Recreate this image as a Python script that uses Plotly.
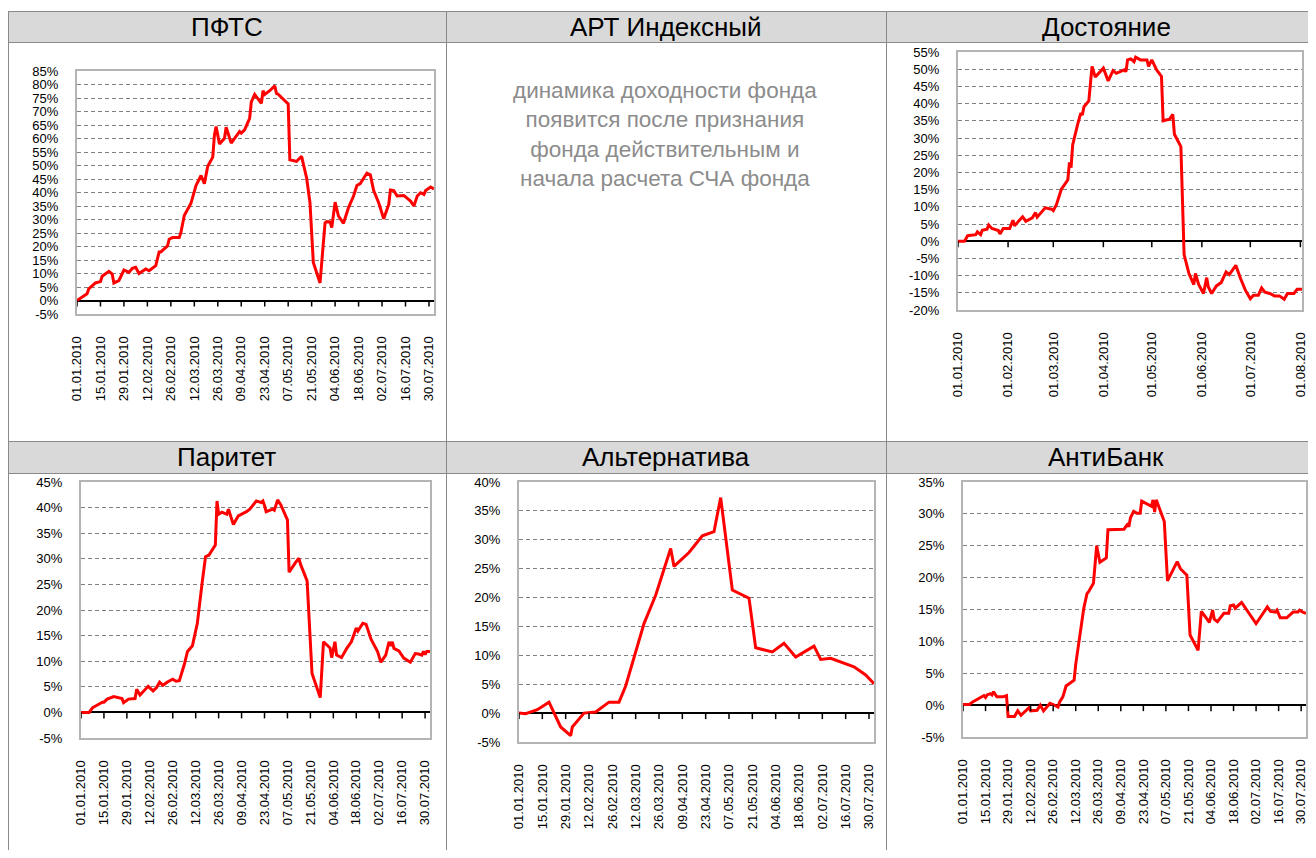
import plotly.graph_objects as go

# The page body keeps its default 8px margin, so the figure is 16px smaller than the window
OFF = 8
W, H = 1316 - 2 * OFF, 858 - 2 * OFF
FONT = "Liberation Sans, Arial, sans-serif"

# ---------------- data ----------------
pfts_dates = ["2010-01-01","2010-01-07","2010-01-08","2010-01-12","2010-01-15","2010-01-16","2010-01-20","2010-01-22","2010-01-23","2010-01-26",
              "2010-01-29","2010-02-01","2010-02-03","2010-02-05","2010-02-07","2010-02-09","2010-02-11","2010-02-13","2010-02-15","2010-02-17",
              "2010-02-19","2010-02-20","2010-02-24","2010-02-25","2010-02-27","2010-03-03","2010-03-04","2010-03-06","2010-03-10","2010-03-12",
              "2010-03-13","2010-03-16","2010-03-18","2010-03-20","2010-03-23","2010-03-24","2010-03-25","2010-03-27","2010-03-30","2010-03-31",
              "2010-04-01","2010-04-03","2010-04-08","2010-04-09","2010-04-11","2010-04-14","2010-04-15","2010-04-17","2010-04-21","2010-04-22",
              "2010-04-23","2010-04-26","2010-04-29","2010-04-30","2010-05-01","2010-05-07","2010-05-08","2010-05-12","2010-05-15","2010-05-18",
              "2010-05-20","2010-05-22","2010-05-26","2010-05-29","2010-05-30","2010-06-01","2010-06-02","2010-06-04","2010-06-06","2010-06-09",
              "2010-06-12","2010-06-15","2010-06-17","2010-06-19","2010-06-23","2010-06-25","2010-06-27","2010-06-30","2010-07-03","2010-07-06",
              "2010-07-07","2010-07-09","2010-07-11","2010-07-15","2010-07-19","2010-07-21","2010-07-23","2010-07-25","2010-07-27","2010-07-28",
              "2010-07-31","2010-08-02"]
pfts_vals = [0.0,2.5,4.3,6.5,7.0,9.0,10.8,9.8,6.5,7.4,
             11.3,10.4,11.9,12.3,10.0,10.8,11.7,11.0,11.9,12.9,
             18.0,18.0,20.2,22.7,23.3,23.3,25.2,31.5,36.0,39.9,
             42.6,46.3,43.3,49.7,53.1,61.3,64.4,58.0,60.1,64.2,
             62.0,58.3,62.6,62.0,63.2,67.5,73.6,76.3,73.0,77.7,
             76.3,77.7,79.5,76.7,76.4,72.8,52.1,51.5,53.4,45.4,
             36.2,14.1,6.5,28.8,29.2,29.1,27.0,36.4,31.3,28.6,
             34.4,38.7,42.6,43.3,47.2,46.6,40.7,36.2,30.3,35.6,
             40.9,40.7,38.7,38.9,36.8,35.0,38.7,39.9,39.3,40.7,
             42.0,41.3]

dost_dates = ["2010-01-01","2010-01-05","2010-01-07","2010-01-12","2010-01-13","2010-01-15","2010-01-16","2010-01-19","2010-01-20","2010-01-22",
              "2010-01-26","2010-01-27","2010-01-29","2010-02-02","2010-02-04","2010-02-05","2010-02-10","2010-02-12","2010-02-16","2010-02-18",
              "2010-02-19","2010-02-24","2010-02-28","2010-03-01","2010-03-03","2010-03-04","2010-03-06","2010-03-10","2010-03-11","2010-03-12",
              "2010-03-13","2010-03-16","2010-03-18","2010-03-19","2010-03-20","2010-03-23","2010-03-25","2010-03-27","2010-03-29","2010-04-01",
              "2010-04-04","2010-04-07","2010-04-09","2010-04-12","2010-04-14","2010-04-15","2010-04-16","2010-04-18","2010-04-20","2010-04-21",
              "2010-04-24","2010-04-28","2010-04-29","2010-05-01","2010-05-04","2010-05-07","2010-05-08","2010-05-12","2010-05-14","2010-05-15",
              "2010-05-19","2010-05-21","2010-05-24","2010-05-27","2010-05-28","2010-05-30","2010-06-02","2010-06-04","2010-06-05","2010-06-07",
              "2010-06-10","2010-06-13","2010-06-16","2010-06-18","2010-06-22","2010-06-25","2010-06-28","2010-07-01","2010-07-03","2010-07-06",
              "2010-07-08","2010-07-10","2010-07-13","2010-07-16","2010-07-19","2010-07-22","2010-07-24","2010-07-28","2010-07-30","2010-08-02"]
dost_vals = [0.0,0.0,1.6,1.9,2.7,1.9,3.2,3.5,4.7,3.7,
             3.1,2.1,3.7,3.7,6.1,4.5,7.1,5.8,6.8,8.3,
             7.0,9.7,9.3,8.9,10.7,12.4,15.1,17.8,22.9,21.4,
             28.0,33.8,37.2,36.7,39.1,40.8,50.8,47.7,48.8,50.3,
             46.6,49.6,48.8,49.5,49.8,49.3,52.7,53.0,52.2,53.5,
             52.7,52.7,50.8,52.7,49.8,47.9,35.0,35.5,36.9,31.1,
             27.5,-3.9,-9.4,-12.6,-9.4,-12.6,-15.2,-10.6,-13.3,-15.2,
             -13.0,-12.0,-8.9,-9.7,-7.0,-10.9,-14.3,-16.7,-15.7,-15.7,
             -13.6,-14.8,-15.2,-15.9,-15.9,-16.9,-15.2,-15.2,-14.0,-14.0]

parit_dates = ["2010-01-01","2010-01-06","2010-01-08","2010-01-12","2010-01-14","2010-01-15","2010-01-17","2010-01-21","2010-01-23","2010-01-26",
               "2010-01-27","2010-01-30","2010-02-03","2010-02-04","2010-02-06","2010-02-11","2010-02-14","2010-02-16","2010-02-18","2010-02-20",
               "2010-02-23","2010-02-26","2010-02-28","2010-03-02","2010-03-05","2010-03-07","2010-03-10","2010-03-13","2010-03-16","2010-03-18",
               "2010-03-20","2010-03-24","2010-03-25","2010-03-26","2010-03-28","2010-03-31","2010-04-01","2010-04-04","2010-04-07","2010-04-09",
               "2010-04-12","2010-04-14","2010-04-18","2010-04-21","2010-04-22","2010-04-23","2010-04-24","2010-04-28","2010-04-29","2010-05-01",
               "2010-05-03","2010-05-07","2010-05-08","2010-05-12","2010-05-14","2010-05-15","2010-05-19","2010-05-22","2010-05-27","2010-05-29",
               "2010-06-02","2010-06-03","2010-06-05","2010-06-06","2010-06-09","2010-06-12","2010-06-15","2010-06-18","2010-06-19","2010-06-22",
               "2010-06-24","2010-06-27","2010-06-30","2010-07-01","2010-07-03","2010-07-06","2010-07-08","2010-07-09","2010-07-10","2010-07-11",
               "2010-07-14","2010-07-17","2010-07-21","2010-07-24","2010-07-26","2010-07-28","2010-07-29","2010-07-30","2010-07-31","2010-08-02"]
parit_vals = [0.0,0.0,0.9,1.6,2.0,2.0,2.6,3.1,2.9,2.7,
              1.9,2.6,2.7,4.5,3.4,5.1,4.2,4.8,5.9,5.3,
              6.0,6.5,6.1,6.2,9.3,11.9,13.0,17.4,25.5,30.4,
              30.7,32.7,41.3,38.7,39.1,38.7,39.7,36.7,38.4,38.7,
              39.2,39.7,41.3,41.0,41.3,40.4,39.2,39.7,39.5,41.5,
              40.5,37.6,27.4,29.3,30.1,28.9,25.7,7.6,2.9,13.8,
              12.6,10.7,13.8,11.2,10.7,12.4,13.8,16.5,15.9,17.4,
              17.2,14.3,12.6,11.9,9.8,11.2,13.8,13.0,13.8,12.5,
              12.0,10.6,9.8,11.5,11.4,11.2,11.9,11.3,11.9,11.9]

alt_dates = ["2010-01-01","2010-01-05","2010-01-12","2010-01-19","2010-01-26","2010-02-01","2010-02-02","2010-02-09","2010-02-16","2010-02-24",
             "2010-03-02","2010-03-06","2010-03-17","2010-03-24","2010-04-02","2010-04-04","2010-04-13","2010-04-21","2010-04-28","2010-05-02",
             "2010-05-09","2010-05-19","2010-05-23","2010-06-02","2010-06-09","2010-06-16","2010-06-27","2010-07-01","2010-07-07","2010-07-21",
             "2010-07-28","2010-08-02"]
alt_vals = [0.0,-0.1,0.6,1.9,-2.4,-3.9,-2.4,0.0,0.2,1.9,
            1.9,4.7,15.5,20.4,28.5,25.4,27.8,30.7,31.4,37.3,
            21.3,19.9,11.3,10.6,12.1,9.7,11.6,9.3,9.5,8.0,
            6.6,5.1]

anti_dates = ["2010-01-01","2010-01-05","2010-01-07","2010-01-12","2010-01-14","2010-01-15","2010-01-16","2010-01-18","2010-01-19","2010-01-20",
              "2010-01-22","2010-01-26","2010-01-28","2010-01-29","2010-02-02","2010-02-04","2010-02-06","2010-02-11","2010-02-12","2010-02-16",
              "2010-02-18","2010-02-20","2010-02-24","2010-02-26","2010-03-01","2010-03-02","2010-03-04","2010-03-06","2010-03-11","2010-03-12",
              "2010-03-15","2010-03-17","2010-03-19","2010-03-20","2010-03-23","2010-03-25","2010-03-27","2010-03-31","2010-04-01","2010-04-11",
              "2010-04-13","2010-04-14","2010-04-15","2010-04-17","2010-04-19","2010-04-21","2010-04-22","2010-04-28","2010-04-29","2010-04-30",
              "2010-05-01","2010-05-06","2010-05-08","2010-05-14","2010-05-16","2010-05-20","2010-05-22","2010-05-27","2010-05-29","2010-06-03",
              "2010-06-05","2010-06-06","2010-06-08","2010-06-12","2010-06-15","2010-06-16","2010-06-18","2010-06-19","2010-06-23","2010-06-28",
              "2010-07-02","2010-07-05","2010-07-08","2010-07-09","2010-07-11","2010-07-14","2010-07-15","2010-07-17","2010-07-21","2010-07-25",
              "2010-07-28","2010-07-29","2010-07-31","2010-08-02"]
anti_vals = [0.1,0.1,0.5,1.3,1.5,1.2,1.6,1.8,1.6,2.1,
             1.3,1.3,1.5,-1.8,-1.8,-0.9,-1.6,-0.4,-0.9,-0.8,
             0.0,-0.9,0.3,0.1,-0.3,0.5,1.3,3.0,3.9,6.4,
             11.5,15.2,17.5,17.8,19.1,25.0,22.4,23.1,27.5,27.6,
             28.3,28.0,29.4,30.4,30.1,30.1,32.0,31.2,32.2,30.3,
             32.2,28.8,19.5,22.5,21.4,20.4,11.0,8.6,14.7,13.0,
             14.9,13.5,13.1,14.4,14.4,15.6,15.7,15.2,16.1,14.2,
             12.8,13.9,15.2,15.4,14.7,14.6,14.9,13.7,13.7,14.6,
             14.6,14.9,14.6,14.4]

biweekly_ticks = ["2010-01-01","2010-01-15","2010-01-29","2010-02-12","2010-02-26","2010-03-12","2010-03-26","2010-04-09",
                  "2010-04-23","2010-05-07","2010-05-21","2010-06-04","2010-06-18","2010-07-02","2010-07-16","2010-07-30"]
monthly_ticks = ["2010-01-01","2010-02-01","2010-03-01","2010-04-01","2010-05-01","2010-06-01","2010-07-01","2010-08-01"]

titles = ["ПФТС", "АРТ Индексный", "Достояние", "Паритет", "Альтернатива", "АнтиБанк"]
placeholder_text = "динамика доходности фонда<br>появится после признания<br>фонда действительным и<br>начала расчета СЧА фонда"

x_range = ["2010-01-01", "2010-08-02"]

# ---------------- layout config (window-pixel boxes) ----------------
panels = [
    dict(dates=pfts_dates, vals=pfts_vals, yr=(-5, 85), ticks=biweekly_ticks, box=(77, 71, 434, 314)),
    dict(dates=dost_dates, vals=dost_vals, yr=(-20, 55), ticks=monthly_ticks, box=(958, 52, 1302, 310)),
    dict(dates=parit_dates, vals=parit_vals, yr=(-5, 45), ticks=biweekly_ticks, box=(81, 482, 430, 738)),
    dict(dates=alt_dates, vals=alt_vals, yr=(-5, 40), ticks=biweekly_ticks, box=(519, 482, 874, 742)),
    dict(dates=anti_dates, vals=anti_vals, yr=(-5, 35), ticks=biweekly_ticks, box=(963, 482, 1306, 737)),
]


def px(x):
    return (x - OFF) / W


def py(y):
    return 1 - (y - OFF) / H


FRAME = "#b4b4b4"
GRID = "#808080"

fig = go.Figure()
shapes = []
layout = {}

# table: header fills and borders
for (y0, y1) in [(11, 42), (441, 473)]:
    shapes.append(dict(type="rect", xref="paper", yref="paper", x0=px(8), x1=1.0, y0=py(y1), y1=py(y0),
                       fillcolor="#d9d9d9", line=dict(width=0), layer="below"))
for yy in [11.5, 42.5, 441.5, 473.5]:
    shapes.append(dict(type="line", xref="paper", yref="paper", x0=px(8), x1=1.0, y0=py(yy), y1=py(yy),
                       line=dict(color="#8a8a8a", width=1)))
for xx in [8.5, 446.5, 886.5]:
    shapes.append(dict(type="line", xref="paper", yref="paper", x0=px(xx), x1=px(xx), y0=py(11), y1=0,
                       line=dict(color="#8a8a8a", width=1)))

annotations = []
title_pos = [(226.5, 26.5), (666.5, 26.5), (1106, 26.5), (226.5, 457.5), (666.5, 457.5), (1106, 457.5)]
for t, (cx, cy) in zip(titles, title_pos):
    annotations.append(dict(text=t, xref="paper", yref="paper", x=px(cx), y=py(cy), xanchor="center", yanchor="middle",
                            showarrow=False, font=dict(family=FONT, size=26, color="black")))
annotations.append(dict(text=placeholder_text, xref="paper", yref="paper", x=px(665), y=py(134.5), xanchor="center",
                        yanchor="middle", showarrow=False, align="center",
                        font=dict(family=FONT, size=22.5, color="#8c8c8c")))

for i, p in enumerate(panels, start=1):
    sfx = "" if i == 1 else str(i)
    x0, y0, x1, y1 = p["box"]
    lo, hi = p["yr"]
    yt = list(range(lo, hi + 1, 5))
    fig.add_trace(go.Scatter(x=p["dates"], y=p["vals"], mode="lines", xaxis="x" + sfx, yaxis="y" + sfx,
                             line=dict(color="#ff0000", width=3), hoverinfo="skip"))
    layout["xaxis" + sfx] = dict(
        domain=[px(x0), px(x1)], anchor="y" + sfx, type="date", range=x_range,
        tickvals=p["ticks"], tickformat="%d.%m.%Y", tickangle=-90,
        ticks="outside", ticklen=15, tickcolor="rgba(0,0,0,0)", ticklabeloverflow="allow",
        tickfont=dict(family=FONT, size=13, color="black"), automargin=False,
        showgrid=False, zeroline=False, showline=True, mirror=True, linecolor=FRAME, linewidth=2,
        fixedrange=True)
    layout["yaxis" + sfx] = dict(
        domain=[py(y1), py(y0)], anchor="x" + sfx, range=[lo, hi],
        tickvals=yt, ticktext=[f"{v}%" for v in yt],
        ticks="outside", ticklen=14, tickcolor="rgba(0,0,0,0)",
        tickfont=dict(family=FONT, size=13, color="black"), automargin=False,
        showgrid=True, gridcolor=GRID, gridwidth=1, griddash="4px,3px",
        zeroline=True, zerolinecolor="black", zerolinewidth=2,
        showline=True, mirror=True, linecolor=FRAME, linewidth=2, fixedrange=True)
    # small tick marks hanging below the zero line (category axis)
    for d in p["ticks"]:
        shapes.append(dict(type="line", xref="x" + sfx, yref="y" + sfx, x0=d, x1=d,
                           ysizemode="pixel", yanchor=0, y0=0, y1=-6,
                           line=dict(color="black", width=1.5)))

fig.update_layout(width=W, height=H, margin=dict(l=0, r=0, t=0, b=0, pad=0, autoexpand=False), autosize=False,
                  paper_bgcolor="white", plot_bgcolor="white", showlegend=False,
                  font=dict(family=FONT, size=13, color="black"),
                  shapes=shapes, annotations=annotations, hovermode=False, **layout)

fig.write_html("out.html", config={"displayModeBar": False})
